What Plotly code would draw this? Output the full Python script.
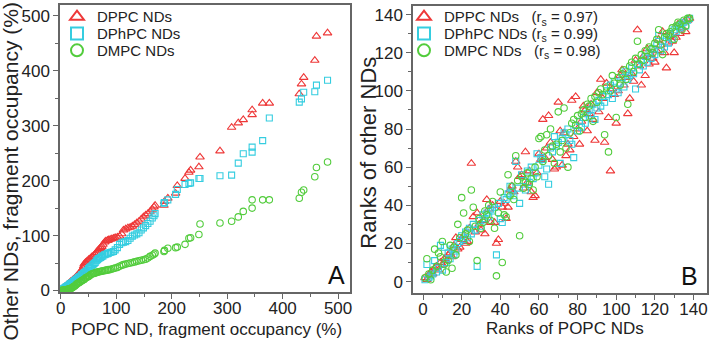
import plotly.graph_objects as go

# ---------------- Panel A data (fragment occupancy, %) ----------------
popc_occ = [1, 2, 3, 4, 5, 6, 7, 8, 9, 10,
            11, 12, 13, 14, 15, 16, 17, 18, 19, 20,
            22, 23, 25, 26, 28, 29, 31, 32, 34, 35,
            37, 38, 40, 41, 42, 44, 45, 47, 49, 50,
            52, 54, 56, 58, 60, 62, 64, 66, 68, 70,
            72, 74, 76, 79, 81, 84, 86, 89, 92, 95,
            98, 102, 106, 110, 113, 117, 121, 125, 129, 133,
            137, 141, 145, 149, 153, 157, 161, 165, 168, 170,
            186, 187, 193, 207, 210, 224, 231, 234, 249, 251,
            287, 308, 320, 329, 345, 345, 364, 376, 430, 434,
            438, 458, 461, 481]
dppc_occ = [1, 2, 2, 3, 4, 5, 6, 6, 8, 8,
            9, 10, 11, 12, 13, 13, 15, 16, 16, 17,
            19, 20, 22, 23, 25, 26, 28, 30, 31, 33,
            35, 37, 40, 44, 48, 50, 51, 53, 54, 56,
            57, 59, 61, 62, 64, 66, 69, 72, 74, 76,
            78, 80, 84, 88, 90, 91, 92, 93, 94, 95,
            96, 97, 99, 103, 110, 112, 114, 115, 117, 120,
            123, 126, 130, 134, 137, 140, 144, 148, 152, 155,
            155, 162, 168, 177, 191, 204, 215, 219, 225, 243,
            254, 297, 305, 311, 320, 329, 341, 341, 358, 376,
            388, 419, 463, 469]
dphpc_occ = [0, 1, 2, 2, 3, 4, 4, 5, 6, 6,
             7, 8, 9, 9, 10, 11, 12, 12, 13, 14,
             15, 16, 18, 19, 20, 21, 23, 24, 25, 26,
             28, 29, 30, 31, 32, 33, 34, 36, 37, 40,
             42, 43, 45, 47, 49, 51, 54, 56, 58, 59,
             60, 62, 63, 65, 66, 67, 68, 69, 70, 71,
             74, 78, 84, 87, 88, 89, 91, 95, 99, 101,
             103, 105, 110, 114, 118, 122, 126, 132, 136, 140,
             159, 160, 165, 175, 184, 193, 195, 196, 204, 204,
             209, 210, 232, 249, 252, 261, 273, 314, 343, 349,
             361, 362, 374, 383]
dmpc_occ = [0, 0, 0, 0, 1, 0, 1, 0, 1, 1,
            1, 2, 2, 2, 3, 3, 3, 4, 4, 5,
            6, 7, 8, 9, 11, 12, 13, 14, 15, 16,
            17, 18, 19, 20, 20, 22, 23, 24, 25, 26,
            27, 29, 30, 31, 31, 32, 33, 33, 34, 34,
            35, 35, 36, 36, 37, 37, 38, 38, 39, 40,
            41, 42, 44, 46, 47, 48, 49, 50, 51, 52,
            53, 54, 55, 56, 57, 59, 62, 64, 66, 68,
            71, 73, 77, 78, 79, 84, 95, 96, 102, 121,
            123, 126, 134, 144, 150, 165, 165, 165, 168, 179,
            183, 207, 224, 234]

# ---------------- Panel B data (ranks) ----------------
popc_rank = [1, 2, 3, 4, 5, 6, 7, 8, 9, 10,
             11, 12, 13, 14, 15, 16, 17, 18, 19, 20,
             21, 22, 23, 24, 25, 26, 27, 28, 29, 30,
             31, 32, 33, 34, 35, 36, 37, 38, 39, 40,
             41, 42, 43, 44, 45, 46, 47, 48, 49, 50,
             51, 52, 53, 54, 55, 56, 57, 58, 59, 60,
             61, 62, 63, 64, 65, 66, 67, 68, 69, 70,
             71, 72, 73, 74, 75, 76, 77, 78, 79, 80,
             81, 82, 83, 84, 85, 86, 87, 88, 89, 90,
             91, 92, 93, 94, 95, 96, 97, 98, 99, 100,
             101, 102, 103, 104, 105, 106, 107, 108, 109, 110,
             111, 112, 113, 114, 115, 116, 117, 118, 119, 120,
             121, 122, 123, 124, 125, 126, 127, 128, 129, 130,
             131, 132, 133, 134, 135, 136, 137, 138]
dppc_rank = [2, 1, 3, 5, 4, 7, 8, 6, 10, 9,
             12, 11, 14, 15, 13, 19, 23, 17, 18, 22,
             24, 20, 21, 28, 62, 34, 26, 36, 30, 27,
             32, 25, 43, 38, 31, 40, 31, 20, 22, 42,
             39, 41, 33, 39, 48, 50, 47, 63, 60, 55,
             56, 49, 68, 52, 58, 47, 44, 45, 57, 67,
             64, 85, 65, 70, 87, 73, 64, 59, 60, 94,
             79, 61, 78, 66, 72, 69, 95, 76, 97, 80,
             72, 84, 92, 90, 79, 88, 93, 85, 74, 99,
             89, 106, 96, 73, 104, 86, 58, 101, 98, 83,
             100, 108, 111, 103, 107, 88, 96, 109, 105, 116,
             132, 113, 103, 118, 108, 122, 114, 119, 117, 115,
             121, 127, 124, 131, 120, 112, 125, 129, 126, 120,
             128, 135, 130, 133, 136, 131, 137, 138]
dphpc_rank = [1, 9, 2, 3, 4, 11, 5, 7, 19, 6,
              18, 10, 15, 12, 17, 14, 16, 20, 21, 24,
              22, 26, 23, 28, 25, 30, 27, 8, 32, 29,
              35, 33, 36, 34, 38, 37, 39, 14, 41, 33,
              31, 44, 43, 46, 50, 47, 45, 63, 49, 41,
              56, 53, 48, 58, 52, 60, 54, 57, 67, 61,
              65, 64, 55, 59, 51, 70, 68, 76, 71, 73,
              62, 75, 78, 77, 80, 74, 72, 65, 82, 79,
              84, 81, 86, 83, 88, 90, 87, 93, 85, 91,
              95, 92, 97, 94, 100, 98, 103, 96, 105, 101,
              99, 104, 107, 102, 110, 106, 108, 112, 109, 101,
              114, 111, 116, 113, 118, 115, 120, 117, 122, 119,
              124, 129, 121, 126, 123, 128, 125, 130, 127, 132,
              131, 134, 133, 135, 136, 134, 137, 138]
dmpc_rank = [2, 12, 4, 1, 6, 17, 8, 15, 13, 21,
             9, 5, 11, 19, 7, 18, 14, 30, 23, 44,
             36, 25, 27, 21, 48, 39, 29, 11, 33, 28,
             31, 37, 35, 40, 32, 42, 28, 3, 36, 47,
             10, 35, 34, 56, 45, 50, 43, 66, 53, 24,
             55, 49, 52, 57, 51, 54, 48, 60, 55, 75,
             76, 63, 69, 77, 66, 80, 71, 62, 72, 89,
             68, 74, 91, 70, 60, 78, 83, 85, 82, 87,
             79, 88, 90, 86, 93, 92, 96, 84, 97, 94,
             99, 101, 98, 77, 102, 68, 100, 108, 104, 86,
             107, 103, 109, 111, 106, 93, 113, 115, 110, 117,
             126, 114, 119, 116, 121, 118, 123, 122, 120, 125,
             127, 132, 124, 119, 128, 130, 129, 131, 133, 127,
             134, 136, 135, 132, 137, 134, 138, 138]

series_names = ["DPPC NDs", "DPhPC NDs", "DMPC NDs"]
rs_labels = ["\u00a0\u00a0\u00a0(r<sub>s</sub> = 0.97)",
             "\u00a0(r<sub>s</sub> = 0.99)",
             "\u00a0\u00a0\u00a0(r<sub>s</sub> = 0.98)"]
x_ticks_A = [0, 100, 200, 300, 400, 500]
y_ticks_A = [0, 100, 200, 300, 400, 500]
ticks_B = [0, 20, 40, 60, 80, 100, 120, 140]

colors = ["#ee3838", "#35cde0", "#52cc3c"]
symbols = ["triangle-up-open", "square-open", "circle-open"]
sizes = [7.5, 6, 6.5]
FONT = "Liberation Sans, Arial, sans-serif"
W, H = 709, 341

fig = go.Figure()
ys_A = [dppc_occ, dphpc_occ, dmpc_occ]
ys_B = [dppc_rank, dphpc_rank, dmpc_rank]

rows_y = [14, 31, 48]
for i in range(3):
    fig.add_trace(go.Scatter(
        x=popc_occ, y=ys_A[i], mode="markers", name=series_names[i],
        xaxis="x", yaxis="y",
        legend="legend" if i == 0 else f"legend{i+1}",
        marker=dict(symbol=symbols[i], size=sizes[i], color=colors[i],
                    line=dict(width=1.1, color=colors[i])),
    ))
for i in range(3):
    fig.add_trace(go.Scatter(
        x=popc_rank, y=ys_B[i], mode="markers",
        name=series_names[i] + rs_labels[i],
        xaxis="x2", yaxis="y2", legend=f"legend{i+4}",
        marker=dict(symbol=symbols[i], size=sizes[i], color=colors[i],
                    line=dict(width=1.1, color=colors[i])),
    ))

axis_common = dict(
    showgrid=False, zeroline=False, showline=True, mirror=True,
    linecolor="#666666", linewidth=1.5,
    ticks="outside", ticklen=5, tickwidth=1.3, tickcolor="#666666",
    tickfont=dict(family=FONT, size=17, color="#222222"),
    automargin=False,
)

legend_common = dict(
    bgcolor="rgba(0,0,0,0)", borderwidth=0,
    font=dict(family=FONT, size=15, color="#222222"),
    xanchor="left", yanchor="middle", itemsizing="constant",
    itemclick=False, itemdoubleclick=False,
)
legends = {}
for j in range(3):
    key = "legend" if j == 0 else f"legend{j+1}"
    legends[key] = dict(legend_common, x=(77 - 20) / W, y=1 - rows_y[j] / H)
for j in range(3):
    legends[f"legend{j+4}"] = dict(legend_common, x=(424 - 20) / W, y=1 - rows_y[j] / H)

minor_tick = dict(ticks="outside", ticklen=3, tickcolor="#666666")
fig.update_layout(
    width=W, height=H,
    margin=dict(l=0, r=0, t=0, b=0),
    paper_bgcolor="white", plot_bgcolor="white",
    showlegend=True,
    xaxis=dict(axis_common, domain=[60 / W, 350 / W], range=[-1.5, 521.5],
               tickvals=x_ticks_A, ticklabelstandoff=-6,
               minor=dict(minor_tick, dtick=50)),
    yaxis=dict(axis_common, domain=[1 - 292 / H, 1 - 2 / H], range=[-3.6, 520],
               tickvals=y_ticks_A,
               minor=dict(minor_tick, dtick=50)),
    xaxis2=dict(axis_common, domain=[413 / W, 707 / W], range=[-5.2, 147],
                tickvals=ticks_B, anchor="y2", ticklabelstandoff=-6,
                minor=dict(minor_tick, dtick=10)),
    yaxis2=dict(axis_common, domain=[1 - 293 / H, 1 - 3 / H], range=[-6.2, 144.5],
                tickvals=ticks_B, anchor="x2",
                minor=dict(minor_tick, dtick=10)),
    **legends,
)

title_font = dict(family=FONT, size=17, color="#222222")
annotations = [
    dict(text="POPC ND, fragment occupancy (%)", x=206 / W, y=1 - 329 / H,
         xref="paper", yref="paper", showarrow=False, font=title_font,
         xanchor="center", yanchor="middle"),
    dict(text="Ranks of POPC NDs", x=565 / W, y=1 - 328 / H,
         xref="paper", yref="paper", showarrow=False, font=title_font,
         xanchor="center", yanchor="middle"),
    dict(text="Other NDs, fragment occupancy (%)", x=11 / W, y=1 - 170 / H,
         xref="paper", yref="paper", showarrow=False, textangle=-90,
         font=dict(family=FONT, size=21, color="#222222"),
         xanchor="center", yanchor="middle"),
    dict(text="Ranks of other NDs", x=369 / W, y=1 - 151 / H,
         xref="paper", yref="paper", showarrow=False, textangle=-90,
         font=dict(family=FONT, size=22, color="#222222"),
         xanchor="center", yanchor="middle"),
    dict(text="A", x=336 / W, y=1 - 274 / H, xref="paper", yref="paper",
         showarrow=False, font=dict(family=FONT, size=25, color="#111111"),
         xanchor="center", yanchor="middle"),
    dict(text="B", x=689 / W, y=1 - 275 / H, xref="paper", yref="paper",
         showarrow=False, font=dict(family=FONT, size=25, color="#111111"),
         xanchor="center", yanchor="middle"),
]
fig.update_layout(annotations=annotations)

fig.write_html("out.html")
